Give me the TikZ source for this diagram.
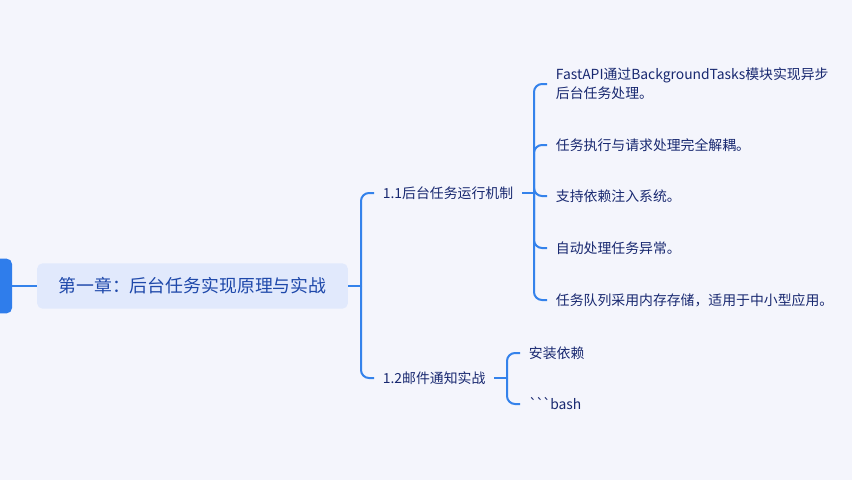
\documentclass[tikz,border=0pt]{standalone}
\usepackage{fontspec}
\setmainfont{Noto Sans CJK SC}
\usetikzlibrary{positioning}
\definecolor{pagebg}{RGB}{244,245,252}
\definecolor{linkblue}{RGB}{52,130,235}
\definecolor{blockblue}{RGB}{47,125,235}
\definecolor{rootfill}{RGB}{225,233,252}
\definecolor{roottext}{RGB}{30,72,170}
\definecolor{navy}{RGB}{24,40,112}

\begin{document}
\begin{tikzpicture}[
                x=0.75pt, y=-0.75pt,
                prev/.style={fill=blockblue, rounded corners=4pt, minimum width=31.5pt, minimum height=41pt},
                root/.style={fill=rootfill, rounded corners=4pt, minimum width=233pt, minimum height=34pt, text=roottext, font=\fontsize{13.4}{16}\selectfont},
                topic/.style={anchor=west, inner xsep=6.5pt, text=navy, font=\fontsize{10.4}{14.25}\selectfont},
                leaf/.style={topic, align=left},
                link/.style={draw=linkblue, line width=1.5pt},
                elbow/.style={link, rounded corners=6pt}
            ]
                \fill[pagebg] (0,0) rectangle (852,480);
                \useasboundingbox (0,0) rectangle (852,480);

                \node[prev] (prev) at (-9,286) {};
                \node[root] (root) at (192.5,286) {第一章：后台任务实现原理与实战};

                \node[topic] (s1) at (374,193) {1.1后台任务运行机制};
                \node[topic] (s2) at (374,378) {1.2邮件通知实战};

                \node[leaf] (l1) at (547,84) {FastAPI通过BackgroundTasks模块实现异步\\后台任务处理。};
                \node[leaf] (l2) at (547,145) {任务执行与请求处理完全解耦。};
                \node[leaf] (l3) at (547,196) {支持依赖注入系统。};
                \node[leaf] (l4) at (547,248) {自动处理任务异常。};
                \node[leaf] (l5) at (547,300) {任务队列采用内存存储，适用于中小型应用。};

                \node[leaf] (m1) at (520,353) {安装依赖};
                \node[leaf] (m2) at (520,404) {\textasciigrave\kern-1.2pt\textasciigrave\kern-1.2pt\textasciigrave\kern-0.5pt bash};

                \coordinate (j0) at (361,286);
                \coordinate (j1) at (534,193);
                \coordinate (j2) at (507,378);

                \draw[link] (prev.east) -- (root.west);
                \draw[link] (root.east) -- (j0);
                \draw[elbow] (j0) |- (s1.west);
                \draw[elbow] (j0) |- (s2.west);

                \draw[link] (s1.east) -- (j1);
                \foreach \n in {l1,l2,l3,l4,l5}
                    \draw[elbow] (j1) |- (\n.west);

                \draw[link] (s2.east) -- (j2);
                \foreach \n in {m1,m2}
                    \draw[elbow] (j2) |- (\n.west);
            \end{tikzpicture}
\end{document}
